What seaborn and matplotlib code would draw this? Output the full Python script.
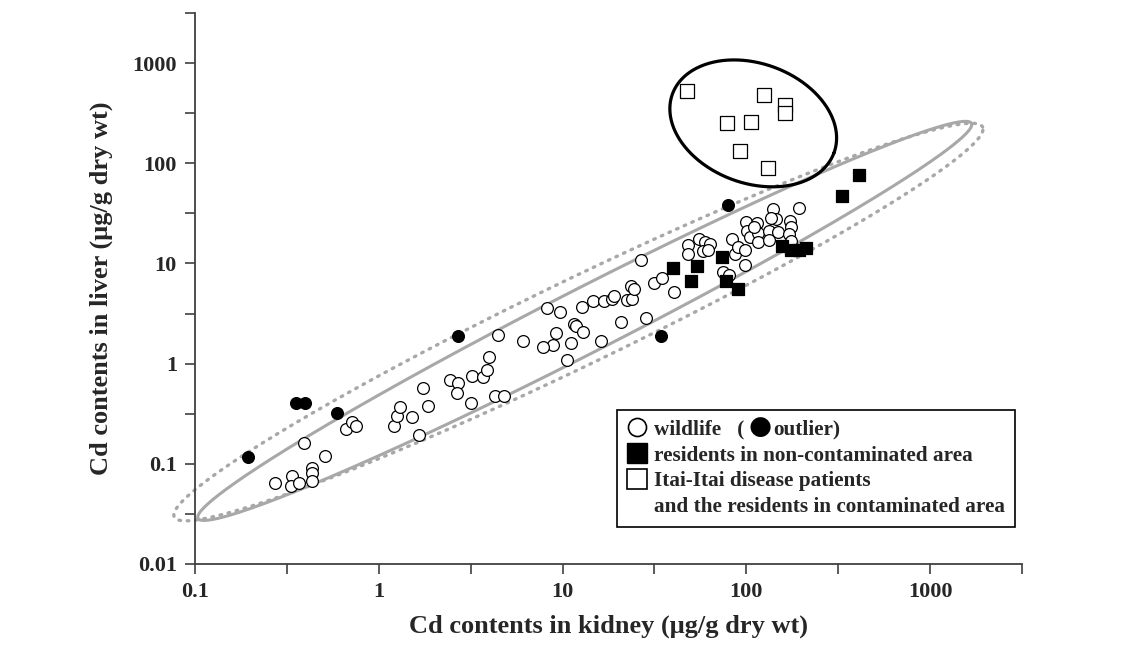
import numpy as np
import pandas as pd
import matplotlib
matplotlib.use("Agg")
import matplotlib.pyplot as plt
from matplotlib.lines import Line2D
from matplotlib.ticker import NullLocator
import seaborn as sns

# Cd in kidney / liver (ug/g dry wt)
wild_kidney = [0.272, 0.337, 0.335, 0.369, 0.433, 0.433, 0.433, 0.394, 0.51, 0.66,
               0.715, 0.75, 1.21, 1.25, 1.30, 1.51, 1.66, 1.75, 1.86, 2.44,
               2.71, 2.65, 3.16, 3.23, 3.67, 3.89, 3.96, 4.29,
               4.82, 4.43, 6.1, 8.19, 9.68, 9.2, 8.9, 7.79, 11.1, 10.6,
               11.5, 11.8, 12.9, 12.7, 14.7, 16.8, 18.5, 19.0, 16.2, 20.7,
               22.3, 23.9, 23.7, 24.4, 28.5, 26.7, 31.4, 34.8, 40.5,
               48.3, 48.3, 55.5, 59.6, 63.4, 58.3, 62.1, 74.3, 80.7, 83.2,
               86.7, 90.4, 98.3, 98.3, 100, 101, 105, 114, 115, 115,
               132, 132, 139, 145, 149, 173, 176, 170, 194, 110, 176, 137]
wild_liver = [0.064, 0.075, 0.060, 0.064, 0.090, 0.081, 0.068, 0.161, 0.12, 0.221,
              0.261, 0.239, 0.239, 0.298, 0.367, 0.291, 0.193, 0.57, 0.375, 0.69,
              0.64, 0.51, 0.40, 0.76, 0.73, 0.86, 1.16, 0.47,
              0.48, 1.94, 1.69, 3.6, 3.26, 2.03, 1.55, 1.48, 1.6, 1.08,
              2.49, 2.36, 2.05, 3.66, 4.17, 4.2, 4.43, 4.78, 1.68, 2.63,
              4.36, 4.43, 6.0, 5.57, 2.86, 10.7, 6.34, 7.18, 5.24,
              15.4, 12.4, 17.5, 16.2, 15.8, 13.2, 13.6, 8.15, 7.73, 17.5,
              12.4, 14.5, 13.6, 9.66, 25.7, 20.9, 18.2, 25.1, 20.0, 16.2,
              21.2, 17.3, 34.9, 27.7, 20.4, 26.7, 22.9, 19.7, 35.7, 23.0, 16.8, 28.6]

outlier_kidney = [0.194, 0.353, 0.395, 0.593, 2.7, 34.2, 79]
outlier_liver = [0.117, 0.40, 0.40, 0.32, 1.88, 1.88, 38.5]

resident_kidney = [39.7, 49.8, 53.8, 74, 77.4, 89.8, 156, 176, 193, 211, 333, 411]
resident_liver = [8.93, 6.75, 9.35, 11.5, 6.75, 5.57, 15.0, 13.6, 13.5, 14.3, 47.6, 76.6]

itai_kidney = [47.3, 125, 162, 162, 78.1, 106, 92.3, 131]
itai_liver = [526, 483, 379, 315, 254, 260, 133, 89]

x_ticks = [10 ** (k / 2) for k in range(-2, 8)]
x_labels = ["0.1", "", "1", "", "10", "", "100", "", "1000", ""]
y_ticks = [10 ** (k / 2) for k in range(-4, 8)]
y_labels = ["0.01", "", "0.1", "", "1", "", "10", "", "100", "", "1000", ""]

wild = pd.DataFrame({"kidney": wild_kidney, "liver": wild_liver})
outl = pd.DataFrame({"kidney": outlier_kidney, "liver": outlier_liver})
resid = pd.DataFrame({"kidney": resident_kidney, "liver": resident_liver})
itai = pd.DataFrame({"kidney": itai_kidney, "liver": itai_liver})

sns.set_style("white")
plt.rcParams["font.family"] = ["Liberation Serif", "DejaVu Sans"]
plt.rcParams["font.weight"] = "bold"

fig = plt.figure(figsize=(11.39, 6.45), dpi=100)
ax = fig.add_axes([0.1712, 0.1256, 0.7261, 0.8543])
ax.set_xscale("log")
ax.set_yscale("log")
ax.set_xlim(0.1, 10 ** 3.5)
ax.set_ylim(0.01, 10 ** 3.5)

# pixels per decade, used to draw the hand-drawn ellipses in screen shape
px_x = 183.8
px_y = 100.4


def ellipse(cx, cy, a, b, ang, **kw):
    t = np.linspace(0, 2 * np.pi, 400)
    th = np.radians(ang)
    dx = a * np.cos(t) * np.cos(th) - b * np.sin(t) * np.sin(th)
    dy = a * np.cos(t) * np.sin(th) + b * np.sin(t) * np.cos(th)
    ax.plot(10 ** (np.log10(cx) + dx / px_x), 10 ** (np.log10(cy) + dy / px_y),
            clip_on=False, **kw)


ellipse(12.2, 2.6, 449, 43, 25.8, color="#a8a8a8", lw=2.4, ls=(0, (0.5, 2.0)),
        dash_capstyle="round")
ellipse(13.2, 2.67, 434.5, 32, 27.1, color="#a8a8a8", lw=2.2)
ellipse(109, 250, 86, 60, -20, color="black", lw=2.3)

sns.scatterplot(data=wild, x="kidney", y="liver", marker="o", color="white",
                edgecolor="black", linewidth=0.9, s=72, ax=ax, zorder=3)
sns.scatterplot(data=outl, x="kidney", y="liver", marker="o", color="black",
                edgecolor="black", linewidth=0.9, s=72, ax=ax, zorder=3)
sns.scatterplot(data=resid, x="kidney", y="liver", marker="s", color="black",
                edgecolor="black", linewidth=0.9, s=85, ax=ax, zorder=3)
sns.scatterplot(data=itai, x="kidney", y="liver", marker="s", color="white",
                edgecolor="black", linewidth=0.9, s=95, ax=ax, zorder=3)

ax.set_xticks(x_ticks)
ax.set_xticklabels(x_labels)
ax.set_yticks(y_ticks)
ax.set_yticklabels(y_labels)
ax.xaxis.set_minor_locator(NullLocator())
ax.yaxis.set_minor_locator(NullLocator())
ax.tick_params(axis="both", direction="out", length=7, width=1.2, color="#404040",
               labelsize=16, pad=6, bottom=True, left=True)
for lab in ax.get_xticklabels() + ax.get_yticklabels():
    lab.set_fontweight("bold")

for side in ["top", "right"]:
    ax.spines[side].set_visible(False)
for side in ["left", "bottom"]:
    ax.spines[side].set_color("#404040")
    ax.spines[side].set_linewidth(1.3)

ax.set_xlabel("Cd contents in kidney (\u03bcg/g dry wt)", fontsize=19,
              fontweight="bold", labelpad=9)
ax.set_ylabel("Cd contents in liver (\u03bcg/g dry wt)", fontsize=19,
              fontweight="bold", labelpad=14)

handles = [
    Line2D([], [], ls="none", marker="o", mfc="white", mec="black", ms=13, mew=1.2),
    Line2D([], [], ls="none", marker="s", mfc="black", mec="black", ms=14),
    Line2D([], [], ls="none", marker="s", mfc="white", mec="black", ms=15, mew=1.2),
    Line2D([], [], ls="none"),
]
labels = ["wildlife   (",
          "residents in non-contaminated area",
          "Itai-Itai disease patients",
          "and the residents in contaminated area"]
leg = ax.legend(handles, labels, loc="upper left", bbox_to_anchor=(0.510, 0.279),
                borderaxespad=0, frameon=True, fancybox=False, framealpha=1,
                edgecolor="black", handlelength=1.0, handletextpad=0.3,
                labelspacing=0.27, borderpad=0.45, prop={"size": 15.3, "weight": "bold"})
leg.get_frame().set_linewidth(1.2)

# the filled "outlier" circle sits inside the first legend line;
# drawn after the legend so the legend text is already placed
t0 = leg.get_texts()[0]
dot = ax.annotate("\u25cf", xy=(1, 0.62), xycoords=t0, xytext=(3, 0),
                  textcoords="offset points", ha="left", va="center",
                  fontsize=19, family="DejaVu Sans", color="black", zorder=10)
ax.annotate("outlier)", xy=(1, 0), xycoords=(dot, t0), xytext=(1.5, 0),
            textcoords="offset points", ha="left", va="bottom",
            fontsize=15.3, fontweight="bold", zorder=11)

fig.canvas.draw()
plt.savefig("out.png", dpi=100)
